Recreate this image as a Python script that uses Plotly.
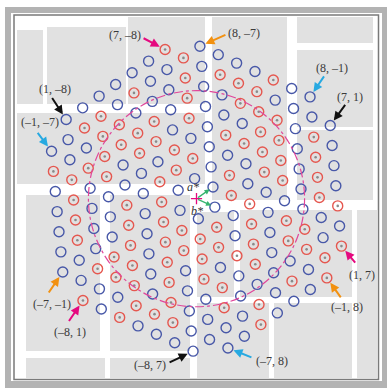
import numpy as np
import plotly.graph_objects as go

# ---------------- data ----------------
ALPHA_DEG = 35.3          # orientation of a* (deg)
GAMMA_DEG = 60.0          # angle between a* and b*
HK_MAX2 = 57              # h^2 + hk + k^2 limit of the drawn reflections
RING_RADIUS = 5.35        # dashed circle radius (units of |a*|)

# reflections drawn as red "dotted" circles (all others are blue)
red_hk = [
    (-2, -6),
    (-2, -5), (-3, -4), (-4, -3), (-5, -2), (-8, 1),
    (1, -7), (-1, -5), (-6, 0),
    (2, -7), (1, -6), (0, -5), (-1, -4), (-5, 0), (-6, 1), (-8, 3),
    (2, -6), (1, -5), (-2, -2), (-3, -1), (-4, 0), (-5, 1), (-6, 2), (-7, 3),
    (4, -7), (2, -5), (1, -4), (-7, 4),
    (3, -5), (2, -4), (0, -2), (-1, -1), (-2, 0), (-3, 1), (-4, 2), (-5, 3), (-6, 4), (-7, 5),
    (7, -8), (2, -3), (1, -2), (-2, 1), (-3, 2),
    (7, -7), (6, -6), (5, -5), (4, -4), (2, -2), (-2, 2), (-3, 3), (-4, 4),
    (-1, 2), (-2, 3), (-4, 5), (-5, 6),
    (7, -5), (4, -2), (2, 0), (1, 1), (-2, 4),
    (7, -4), (6, -3), (4, -1), (1, 2), (0, 3), (-1, 4), (-2, 5), (-4, 7), (-5, 8),
    (7, -3), (6, -2), (5, -1), (4, 0), (3, 1),
    (8, -3), (6, -1), (5, 0), (4, 1), (3, 2), (1, 4), (0, 5), (-2, 7),
    (1, 5), (0, 6),
    (6, 1), (5, 2), (4, 3), (3, 4), (0, 7), (-1, 8),
    (3, 5), (1, 7),
]

label_hk = [(7, -8), (8, -7), (8, -1), (7, 1), (1, 7), (-1, 8),
            (-7, 8), (-8, 7), (-8, 1), (-7, -1), (-1, -7), (1, -8)]
label_text = ["(7, –8)", "(8, –7)", "(8, –1)", "(7, 1)", "(1, 7)", "(–1, 8)",
              "(–7, 8)", "(–8, 7)", "(–8, 1)", "(–7, –1)", "(–1, –7)", "(1, –8)"]
arrow_color = ["#e5097f", "#f29111", "#27a9e1", "#111111", "#e5097f", "#f29111",
               "#27a9e1", "#111111", "#e5097f", "#f29111", "#27a9e1", "#111111"]
# arrow tail offset (px) and label offset (px) relative to the reflection
arrow_off = [(-23, -12), (27, -12), (15, -22), (16, -22), (15, 18), (15, 21),
             (25, 10), (-25, 12), (-15, 22), (-15, 22), (-15, -20), (-15, -23)]
label_off = [(-40, -14), (44, -13), (22, -29), (20, -28), (21, 29), (20, 29),
             (44, 13), (-43, 14), (-13, 31), (-11, 32), (-12, -29), (-11, -31)]

# ---------------- geometry ----------------
W, H = 387, 388
PX_PER_UNIT = 20.2
ORIGIN_PX = (196.5, 198.7)

al = np.radians(ALPHA_DEG)
be = np.radians(ALPHA_DEG - GAMMA_DEG)
a_vec = np.array([np.cos(al), np.sin(al)])
b_vec = np.array([np.cos(be), np.sin(be)])


def pos(h, k):
    p = h * a_vec + k * b_vec
    return float(p[0]), float(p[1])


red_set = set(red_hk)
blue_x, blue_y, red_x, red_y = [], [], [], []
for h in range(-9, 10):
    for k in range(-9, 10):
        if (h, k) == (0, 0) or h * h + h * k + k * k > HK_MAX2:
            continue
        x, y = pos(h, k)
        if (h, k) in red_set:
            red_x.append(x); red_y.append(y)
        else:
            blue_x.append(x); blue_y.append(y)

xr = [-ORIGIN_PX[0] / PX_PER_UNIT, (W - ORIGIN_PX[0]) / PX_PER_UNIT]
yr = [-(H - ORIGIN_PX[1]) / PX_PER_UNIT, ORIGIN_PX[1] / PX_PER_UNIT]

fig = go.Figure()

# background frame and tiles (paper coordinates from pixels)
def prect(x0, y0, x1, y1, **kw):
    return dict(type="rect", xref="paper", yref="paper",
                x0=x0 / W, x1=x1 / W, y0=1 - y1 / H, y1=1 - y0 / H,
                layer="below", **kw)

shapes = []
shapes.append(prect(5, 7, 387, 388, fillcolor="#b3b3b3", line=dict(width=0)))
shapes.append(prect(11, 13, 382, 381, fillcolor="#ffffff", line=dict(width=0)))
tiles = [
    (17, 30, 43, 104), (47, 27, 126, 104), (128, 17, 205, 104),
    (212, 17, 287, 200), (297, 17, 373, 43), (297, 50, 373, 127),
    (297, 130, 373, 200), (17, 113, 205, 184),
    (26, 195, 100, 351), (110, 195, 190, 351),
    (197, 212, 234, 297), (240, 210, 352, 297), (357, 210, 377, 378),
    (197, 303, 269, 378), (274, 303, 352, 378),
    (26, 358, 105, 378), (110, 358, 190, 378),
]
for t in tiles:
    shapes.append(prect(*t, fillcolor="#e1e1e1", line=dict(width=0)))
shapes.append(prect(14, 15, 378.5, 379.5, fillcolor="rgba(0,0,0,0)",
                    line=dict(color="#7a7a7a", width=1.5)))
# dashed ring
shapes.append(dict(type="circle", xref="x", yref="y",
                   x0=-RING_RADIUS, x1=RING_RADIUS, y0=-RING_RADIUS, y1=RING_RADIUS,
                   line=dict(color="#e0479b", width=1.2, dash="dashdot"), layer="above"))

fig.add_trace(go.Scatter(x=blue_x, y=blue_y, mode="markers", hoverinfo="skip",
                         marker=dict(symbol="circle-open", size=10, color="#4858a8",
                                     line=dict(width=1.4, color="#4858a8"))))
fig.add_trace(go.Scatter(x=red_x, y=red_y, mode="markers", hoverinfo="skip",
                         marker=dict(symbol="circle-open", size=10, color="#e5574f",
                                     line=dict(width=1.4, color="#e5574f"))))
fig.add_trace(go.Scatter(x=red_x, y=red_y, mode="markers", hoverinfo="skip",
                         marker=dict(symbol="circle", size=2.6, color="#8a8a8a",
                                     line=dict(width=0))))
# origin cross
fig.add_trace(go.Scatter(x=[0], y=[0], mode="markers", hoverinfo="skip",
                         marker=dict(symbol="cross-thin", size=8,
                                     line=dict(width=1.3, color="#e5097f"))))

ann = []
for (h, k), txt, c, (adx, ady), (ldx, ldy) in zip(label_hk, label_text, arrow_color,
                                                   arrow_off, label_off):
    x, y = pos(h, k)
    ann.append(dict(x=x, y=y, xref="x", yref="y", ax=adx, ay=ady, text="",
                    showarrow=True, arrowhead=2, arrowsize=0.9, arrowwidth=2,
                    arrowcolor=c, standoff=6))
    ann.append(dict(x=x, y=y, xref="x", yref="y", text=txt, showarrow=False,
                    xshift=ldx, yshift=-ldy,
                    font=dict(family="Liberation Serif", size=12, color="#3a3a3a")))

# a*, b* arrows
for vec, name, sh in [(a_vec, "a", (-4, 12)), (b_vec, "b", (0, -12))]:
    ann.append(dict(x=0.8 * vec[0], y=0.8 * vec[1], xref="x", yref="y",
                    ax=0, ay=0, axref="x", ayref="y", text="", showarrow=True,
                    arrowhead=2, arrowsize=0.8, arrowwidth=1.3, arrowcolor="#35b46e"))
    ann.append(dict(x=0, y=0, xref="x", yref="y", showarrow=False,
                    text=f"<i>{name}*</i>", xshift=sh[0], yshift=sh[1],
                    font=dict(family="Liberation Serif", size=12, color="#333333")))

fig.update_layout(
    width=W, height=H, margin=dict(l=0, r=0, t=0, b=0),
    paper_bgcolor="#ffffff", plot_bgcolor="rgba(0,0,0,0)",
    showlegend=False, shapes=shapes, annotations=ann,
    xaxis=dict(range=xr, visible=False, fixedrange=True),
    yaxis=dict(range=yr, visible=False, fixedrange=True),
)
fig.write_html("out.html", config={"displayModeBar": False},
               post_script="document.body.style.margin='0px';document.body.style.padding='0px';")
